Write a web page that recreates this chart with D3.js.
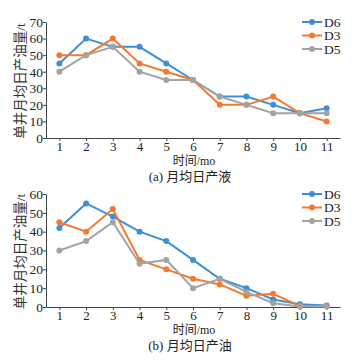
<!DOCTYPE html>
<html>
<head>
<meta charset="utf-8">
<script src="https://cdn.jsdelivr.net/npm/d3@7"></script>
<style>
body { margin: 0; background: #fff; }
text { font-family: "Liberation Serif", "Noto Sans CJK SC", serif; }
</style>
</head>
<body>
<div id="plot"></div>
<script>
const months = [1, 2, 3, 4, 5, 6, 7, 8, 9, 10, 11];
const seriesNames = ['D6', 'D3', 'D5'];
const colors = ['#3f8fd6', '#f47a30', '#a3a3a3'];

// (a) monthly average daily liquid
const liquidD6 = [45, 60, 55, 55, 45, 35, 25, 25, 20, 15, 18];
const liquidD3 = [50, 50, 60, 45, 40, 35, 20, 20, 25, 15, 10];
const liquidD5 = [40, 50, 55, 40, 35, 35, 25, 20, 15, 15, 15];
const liquidTicks = [0, 10, 20, 30, 40, 50, 60, 70];

// (b) monthly average daily oil
const oilD6 = [42, 55, 48, 40, 35, 25, 15, 10, 4, 1.5, 0.8];
const oilD3 = [45, 40, 52, 25, 20, 15, 12, 6, 7, 0.5, 0.5];
const oilD5 = [30, 35, 45, 23, 25, 10, 15, 8, 2, 0.3, 0.3];
const oilTicks = [0, 10, 20, 30, 40, 50, 60];

const yTitle = '单井月均日产油量/t';
const xTitle = '时间/mo';

const width = 364, height = 360;
const svg = d3.select('#plot').append('svg')
    .attr('width', width).attr('height', height);

function panel(top, bottom, yMax, ticks, data, caption) {
    const left = 46, right = 340;
    const x = d3.scaleLinear().domain([0.5, 11.5]).range([left, right]);
    const y = d3.scaleLinear().domain([0, yMax]).range([bottom, top]);
    const g = svg.append('g');

    g.append('g')
        .attr('transform', `translate(0,${bottom})`)
        .call(d3.axisBottom(x).tickValues(months).tickSize(3).tickPadding(1).tickSizeOuter(0))
        .call(a => a.select('.domain').attr('stroke', '#444'))
        .call(a => a.selectAll('line').attr('stroke', '#444'))
        .call(a => a.selectAll('text').attr('font-size', 13).attr('fill', '#222'));

    g.append('g')
        .attr('transform', `translate(${left},0)`)
        .call(d3.axisLeft(y).tickValues(ticks).tickSize(3).tickSizeOuter(0))
        .call(a => a.select('.domain').attr('stroke', '#444'))
        .call(a => a.selectAll('line').attr('stroke', '#444'))
        .call(a => a.selectAll('text').attr('font-size', 13.5).attr('fill', '#222').attr('x', -3));

    const line = d3.line().x((d, i) => x(months[i])).y(d => y(d));

    data.forEach((vals, k) => {
        g.append('path').datum(vals)
            .attr('fill', 'none').attr('stroke', colors[k])
            .attr('stroke-width', 2).attr('d', line);
        g.selectAll(null).data(vals).join('circle')
            .attr('cx', (d, i) => x(months[i])).attr('cy', d => y(d))
            .attr('r', 3).attr('fill', colors[k]);
    });

    // legend
    seriesNames.forEach((n, k) => {
        const ly = top + k * 13.5;
        g.append('line').attr('x1', 302).attr('x2', 322).attr('y1', ly).attr('y2', ly)
            .attr('stroke', colors[k]).attr('stroke-width', 2);
        g.append('circle').attr('cx', 312).attr('cy', ly).attr('r', 3).attr('fill', colors[k]);
        g.append('text').attr('x', 324).attr('y', ly).attr('dy', '0.35em')
            .attr('font-size', 13.5).attr('fill', '#222').text(n);
    });

    g.append('text').attr('transform', `translate(25,${(top + bottom) / 2 + 1}) rotate(-90)`)
        .attr('text-anchor', 'middle').attr('font-size', 13.5).attr('fill', '#333').text(yTitle);
    g.append('text').attr('x', 194).attr('y', bottom + 27)
        .attr('text-anchor', 'middle').attr('font-size', 12).attr('fill', '#222').text(xTitle);
    g.append('text').attr('x', 190).attr('y', bottom + 43)
        .attr('text-anchor', 'middle').attr('font-size', 13).attr('fill', '#222').text(caption);
}

panel(22, 138, 70, liquidTicks, [liquidD6, liquidD3, liquidD5], '(a) 月均日产液');
panel(194, 307, 60, oilTicks, [oilD6, oilD3, oilD5], '(b) 月均日产油');
</script>
</body>
</html>
